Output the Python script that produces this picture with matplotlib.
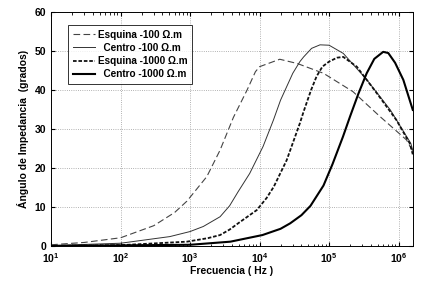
import numpy as np
import matplotlib.pyplot as plt
from matplotlib.ticker import LogLocator, NullFormatter

plt.rcParams['font.family'] = ['Liberation Sans', 'DejaVu Sans']

# Esquina - 100 ohm.m
f_e100 = [10, 30, 100, 300, 600, 900, 1740, 2700, 4200, 6600, 8700, 1.0e4,
          1.95e4, 3.5e4, 8.3e4, 2.2e5, 5.4e5, 1.3e6, 1.6e6]
a_e100 = [0.3, 0.9, 2.1, 5.2, 8.6, 11.5, 17.8, 24.6, 33.0, 40.0, 44.7, 46.0,
          47.9, 46.8, 44.3, 39.6, 33.2, 27.2, 24.3]

# Centro - 100 ohm.m
f_c100 = [10, 100, 510, 1000, 1550, 2700, 3700, 4900, 7200, 11200, 15800, 20000,
          30000, 38000, 43000, 56000, 74000, 1.0e5, 1.6e5, 3.5e5, 7.6e5, 1.5e6, 1.6e6]
a_c100 = [0.1, 0.7, 2.4, 3.7, 5.0, 7.5, 10.3, 13.9, 18.6, 25.5, 32.3, 37.4,
          44.3, 47.3, 48.5, 50.7, 51.6, 51.5, 49.4, 42.6, 34.9, 26.3, 24.5]

# Esquina - 1000 ohm.m
f_e1000 = [10, 100, 900, 1800, 2700, 3700, 4900, 9100, 12600, 16000, 24500, 38000,
           43000, 55000, 66000, 80000, 1.0e5, 1.3e5, 1.6e5, 2.5e5, 4.9e5, 9.3e5,
           1.45e6, 1.6e6]
a_e1000 = [0.0, 0.2, 1.1, 2.0, 2.8, 4.2, 5.8, 9.2, 12.3, 15.2, 22.0, 31.5,
           34.5, 40.0, 43.5, 46.0, 47.3, 48.3, 48.5, 46.0, 39.1, 32.3,
           26.3, 23.5]

# Centro - 1000 ohm.m
f_c1000 = [10, 1000, 3800, 11000, 20000, 27500, 40000, 54000, 83000, 1.12e5,
           1.58e5, 2.0e5, 2.63e5, 3.47e5, 4.47e5, 6.0e5, 7.1e5, 8.9e5, 1.17e6, 1.6e6]
a_c1000 = [0.0, 0.3, 1.1, 2.8, 4.4, 5.8, 7.9, 10.3, 15.5, 21.0,
           28.0, 33.2, 39.0, 44.3, 48.0, 49.8, 49.5, 47.0, 42.6, 34.9]

fig = plt.figure(figsize=(4.26, 2.88), dpi=100)
ax = fig.add_axes([0.12, 0.146, 0.849, 0.812])

ax.plot(f_e100, a_e100, color='#444444', lw=0.8, dashes=(6, 3), label='Esquina -100 Ω.m')
ax.plot(f_c100, a_c100, color='#333333', lw=0.7, label='  Centro -100 Ω.m')
ax.plot(f_e1000, a_e1000, color='#111111', lw=1.3, dashes=(2, 1), label='Esquina -1000 Ω.m')
ax.plot(f_c1000, a_c1000, color='black', lw=1.5, label='  Centro -1000 Ω.m')

ax.set_xscale('log')
ax.set_xlim(10, 1.6e6)
ax.set_ylim(0, 60)
ax.set_yticks([0, 10, 20, 30, 40, 50, 60])
ax.xaxis.set_major_locator(LogLocator(base=10, numticks=10))
ax.xaxis.set_minor_locator(LogLocator(base=10, subs=np.arange(2, 10), numticks=20))
ax.xaxis.set_minor_formatter(NullFormatter())

ax.grid(True, which='major', color='#999999', linestyle=':', linewidth=0.6)
ax.tick_params(which='both', direction='in', top=True, right=True, labelsize=7.5)
ax.tick_params(which='major', length=3)
ax.tick_params(which='minor', length=1.8)
for lab in ax.get_xticklabels() + ax.get_yticklabels():
    lab.set_fontweight('bold')
for s in ax.spines.values():
    s.set_linewidth(0.7)

ax.set_xlabel('Frecuencia ( Hz )', fontsize=7.5, fontweight='bold', labelpad=1)
ax.set_ylabel('Ángulo de Impedancia  (grados)', fontsize=7.5, fontweight='bold', labelpad=4)

leg = ax.legend(loc='upper left', bbox_to_anchor=(0.033, 0.965),
                frameon=True, fancybox=False, handlelength=2.2, handletextpad=0.3,
                borderpad=0.45, labelspacing=0.32, prop={'weight': 'bold', 'size': 7.2})
leg.get_frame().set_edgecolor('black')
leg.get_frame().set_linewidth(0.7)

plt.savefig('out.png', dpi=100)
